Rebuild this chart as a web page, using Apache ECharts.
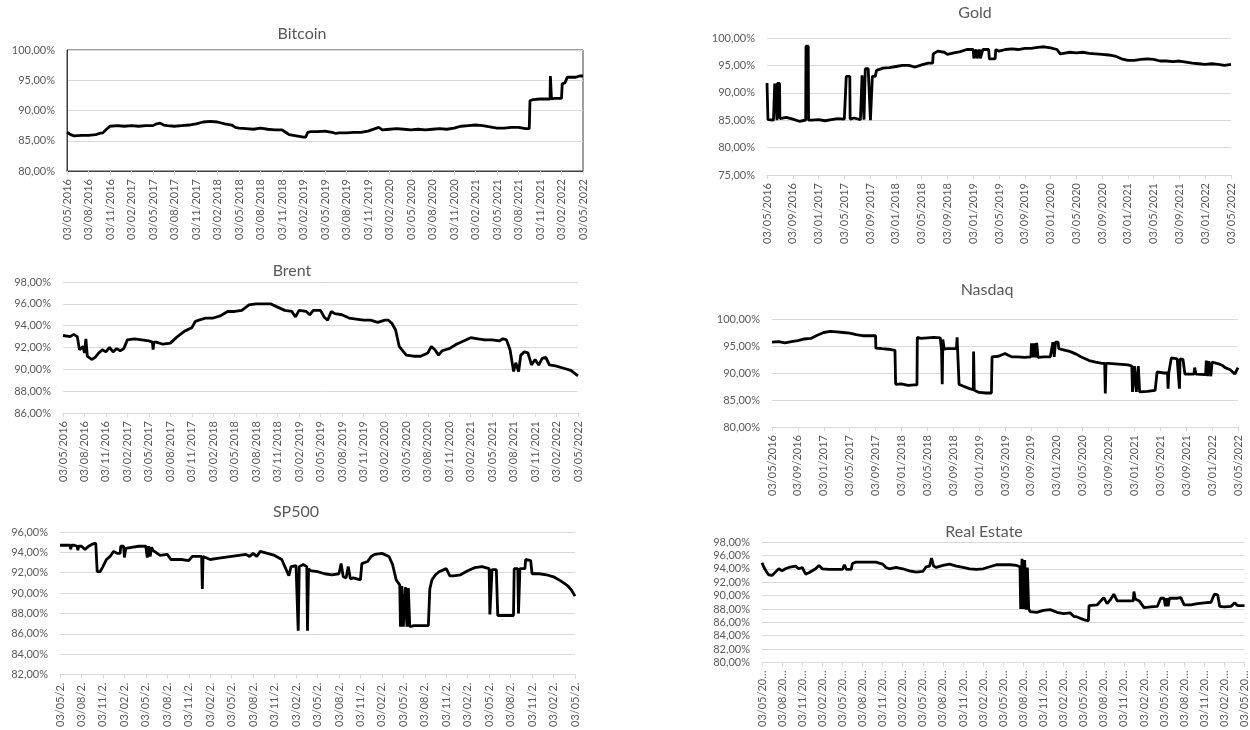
<!DOCTYPE html>
<html>
<head>
<meta charset="utf-8">
<title>Bitcoin, Gold, Brent, Nasdaq, SP500, Real Estate</title>
<script src="https://cdn.jsdelivr.net/npm/echarts@6/dist/echarts.min.js"></script>
<style>
  html, body { margin: 0; padding: 0; background: #fff; overflow: hidden; }
  #chart { width: 1250px; height: 730px; }
</style>
</head>
<body>
<div id="chart"></div>
<script>
// x = months since 03/05/2016, y = percent
const quarterLabels = ['03/05/2016', '03/08/2016', '03/11/2016', '03/02/2017', '03/05/2017', '03/08/2017',
  '03/11/2017', '03/02/2018', '03/05/2018', '03/08/2018', '03/11/2018', '03/02/2019', '03/05/2019',
  '03/08/2019', '03/11/2019', '03/02/2020', '03/05/2020', '03/08/2020', '03/11/2020', '03/02/2021',
  '03/05/2021', '03/08/2021', '03/11/2021', '03/02/2022', '03/05/2022']
const fourMonthLabels = ['03/05/2016', '03/09/2016', '03/01/2017', '03/05/2017', '03/09/2017', '03/01/2018',
  '03/05/2018', '03/09/2018', '03/01/2019', '03/05/2019', '03/09/2019', '03/01/2020', '03/05/2020',
  '03/09/2020', '03/01/2021', '03/05/2021', '03/09/2021', '03/01/2022', '03/05/2022']

const bitcoin = [[0, 86.4], [0.5, 86.0], [1, 85.8], [2, 85.9], [3, 85.9], [4, 86.0], [4.5, 86.2], [5, 86.3],
  [5.5, 86.9], [6, 87.4], [7, 87.5], [8, 87.4], [9, 87.5], [10, 87.4], [11, 87.5], [12, 87.5], [12.5, 87.8],
  [13, 87.9], [13.5, 87.6], [14, 87.5], [15, 87.4], [16, 87.5], [17, 87.6], [18, 87.8], [19, 88.1], [20, 88.2],
  [21, 88.1], [22, 87.8], [23, 87.6], [23.5, 87.2], [24, 87.1], [25, 87.0], [26, 86.9], [27, 87.1], [28, 86.9],
  [29, 86.8], [30, 86.8], [30.5, 86.4], [31, 86.0], [32, 85.8], [33, 85.6], [33.3, 85.6], [33.6, 86.4],
  [34, 86.5], [35, 86.5], [36, 86.6], [37, 86.4], [37.5, 86.2], [38, 86.3], [39, 86.3], [40, 86.4], [41, 86.4],
  [42, 86.6], [43, 87.0], [43.5, 87.2], [44, 86.8], [45, 86.9], [46, 87.0], [47, 86.9], [48, 86.8], [49, 86.9],
  [50, 86.8], [51, 86.9], [52, 87.0], [53, 86.9], [54, 87.1], [55, 87.4], [56, 87.5], [57, 87.6], [58, 87.5],
  [59, 87.3], [60, 87.1], [61, 87.1], [62, 87.2], [63, 87.2], [64, 87.0], [64.5, 87.0], [64.6, 91.6],
  [65, 91.8], [66, 91.9], [67, 91.9], [67.4, 91.9], [67.45, 95.7], [67.55, 95.7], [67.6, 91.9], [68, 92.0],
  [69, 92.0], [69.1, 94.4], [69.5, 94.6], [69.8, 95.5], [70, 95.5], [71, 95.5], [71.5, 95.7], [72, 95.7]]

const gold = [[0, 91.8], [0.15, 85.1], [1, 85.0], [1.15, 85.0], [1.2, 91.7], [1.5, 91.7], [1.55, 85.0],
  [1.6, 91.7], [1.95, 91.7], [2.0, 85.3], [3, 85.5], [4, 85.2], [5, 84.8], [5.5, 84.9], [6, 85.0], [6.05, 98.5],
  [6.4, 98.5], [6.45, 85.0], [7, 85.0], [8, 85.1], [9, 84.9], [10, 85.1], [11, 85.3], [12, 85.2], [12.25, 85.1],
  [12.3, 93.0], [12.85, 93.0], [12.9, 85.2], [13.5, 85.4], [14.5, 85.1], [14.7, 85.0], [14.75, 93.2],
  [15.0, 93.2], [15.05, 85.1], [15.2, 85.1], [15.25, 94.4], [15.7, 94.4], [15.75, 93.2], [16.0, 93.3],
  [16.05, 85.0], [16.3, 85.0], [16.35, 93.0], [16.8, 93.0], [17, 94.1], [18, 94.5], [19, 94.6], [20, 94.8],
  [21, 95.0], [22, 95.0], [23, 94.7], [24, 95.1], [25, 95.4], [25.7, 95.4], [25.8, 97.1], [26.5, 97.6],
  [27.5, 97.4], [28, 97.0], [29, 97.3], [30, 97.5], [31, 97.9], [32, 97.9], [32.1, 96.3], [32.5, 97.9],
  [32.6, 96.3], [33, 97.9], [33.1, 96.3], [33.4, 96.3], [33.5, 97.9], [34.4, 97.9], [34.5, 96.2], [35.4, 96.2],
  [35.5, 97.9], [36, 97.6], [37, 97.9], [38, 98.0], [39, 97.9], [40, 98.1], [41, 98.1], [42, 98.3], [43, 98.4],
  [44, 98.2], [45, 97.9], [45.5, 97.1], [46, 97.2], [47, 97.4], [48, 97.3], [49, 97.4], [50, 97.2], [51, 97.1],
  [52, 97.0], [53, 96.9], [54, 96.7], [55, 96.2], [56, 95.9], [57, 95.9], [58, 96.1], [59, 96.2], [60, 96.1],
  [61, 95.8], [62, 95.8], [63, 95.7], [64, 95.8], [65, 95.6], [66, 95.4], [67, 95.3], [68, 95.2], [69, 95.3],
  [70, 95.2], [71, 95.0], [72, 95.2]]

const brent = [[0, 93.1], [1, 93.0], [1.5, 93.2], [2, 93.0], [2.2, 93.1], [2.3, 91.8], [2.8, 92.1], [3, 91.5],
  [3.2, 92.8], [3.4, 91.2], [4, 90.9], [4.5, 91.1], [5, 91.5], [5.5, 91.8], [6, 91.6], [6.5, 92.0], [7, 91.6],
  [7.5, 91.9], [8, 91.7], [8.5, 91.9], [9, 92.7], [10, 92.8], [11, 92.7], [12, 92.6], [12.5, 92.5], [12.6, 91.8],
  [12.7, 92.5], [13, 92.5], [14, 92.3], [15, 92.4], [15.5, 92.7], [16, 93.0], [17, 93.5], [18, 93.8],
  [18.5, 94.4], [19, 94.5], [20, 94.7], [21, 94.7], [22, 94.9], [23, 95.3], [24, 95.3], [25, 95.4], [26, 95.9],
  [27, 96.0], [28, 96.0], [29, 96.0], [30, 95.7], [31, 95.4], [32, 95.3], [32.5, 94.8], [33, 95.4], [34, 95.3],
  [34.5, 95.0], [35, 95.4], [36, 95.4], [36.5, 94.8], [37, 94.5], [37.5, 95.3], [38, 95.1], [39, 95.0],
  [40, 94.7], [41, 94.6], [42, 94.5], [43, 94.5], [44, 94.3], [45, 94.5], [45.5, 94.5], [46, 94.2], [46.5, 93.6],
  [47, 92.1], [47.5, 91.7], [48, 91.3], [49, 91.2], [50, 91.2], [51, 91.5], [51.5, 92.1], [52, 91.8],
  [52.5, 91.3], [53, 91.7], [54, 91.9], [55, 92.3], [56, 92.6], [57, 92.9], [58, 92.8], [59, 92.7], [60, 92.7],
  [61, 92.6], [61.5, 92.8], [62, 92.7], [62.5, 91.8], [63, 89.8], [63.3, 90.6], [63.7, 89.8], [64, 91.3],
  [64.5, 91.6], [65, 91.5], [65.5, 90.4], [66, 90.9], [66.5, 90.4], [67, 91.0], [67.5, 91.1], [68, 90.4],
  [69, 90.3], [70, 90.1], [71, 89.9], [72, 89.4]]

const nasdaq = [[0, 95.7], [1, 95.8], [2, 95.6], [3, 95.8], [4, 96.0], [5, 96.3], [6, 96.4], [7, 97.0],
  [8, 97.5], [9, 97.7], [10, 97.6], [11, 97.5], [12, 97.4], [13, 97.1], [14, 96.9], [15, 96.9], [16, 96.9],
  [16.05, 94.6], [17, 94.5], [18, 94.4], [19, 94.2], [19.1, 87.9], [20, 88.0], [21, 87.7], [22, 87.8],
  [22.4, 87.8], [22.45, 96.6], [23, 96.4], [24, 96.5], [25, 96.6], [26, 96.5], [26.2, 94.2], [26.3, 87.9],
  [26.4, 96.2], [26.6, 94.4], [27, 94.5], [28.5, 94.5], [28.6, 96.6], [28.85, 96.6], [28.9, 87.9], [29.5, 87.6],
  [30.5, 87.1], [31.1, 86.9], [31.15, 94.0], [31.25, 86.8], [32, 86.4], [33, 86.3], [33.9, 86.3], [34, 93.0],
  [35, 93.1], [36, 93.6], [36.5, 93.3], [37, 93.0], [38, 93.0], [39, 92.9], [40, 93.0], [40.1, 95.5],
  [40.3, 92.9], [40.5, 95.5], [40.7, 92.9], [40.9, 95.6], [41.1, 92.9], [42, 93.0], [43, 93.0], [43.3, 93.0],
  [43.4, 95.7], [43.6, 93.0], [43.8, 95.7], [44.2, 95.7], [44.3, 94.5], [45, 94.3], [46, 94.0], [47, 93.5],
  [47.7, 93.0], [49, 92.3], [50, 92.0], [51, 91.8], [51.4, 91.8], [51.5, 86.2], [51.6, 91.8], [52, 91.8],
  [53, 91.7], [54, 91.6], [55, 91.5], [55.6, 91.3], [55.7, 86.5], [56.0, 91.3], [56.3, 86.5], [56.6, 91.3],
  [56.8, 86.5], [58, 86.6], [59.2, 86.8], [59.5, 90.2], [60.5, 90.0], [61.1, 90.0], [61.2, 87.1], [61.3, 90.0],
  [61.7, 92.8], [62.6, 92.6], [62.9, 92.6], [62.95, 87.1], [63.05, 92.6], [63.5, 92.5], [63.8, 89.8],
  [64, 89.8], [65.2, 89.8], [65.3, 91.0], [65.5, 89.8], [67, 89.7], [67.1, 92.3], [67.3, 89.4], [67.5, 92.2],
  [67.8, 89.4], [68, 92.0], [69, 91.7], [69.6, 91.4], [70, 91.0], [70.8, 90.6], [71.5, 89.8], [72, 91.0]]

const sp500 = [[0, 94.7], [1, 94.7], [1.4, 94.7], [1.5, 94.3], [1.6, 94.7], [2, 94.7], [2.4, 94.6], [2.5, 94.2],
  [2.6, 94.6], [3, 94.6], [3.5, 94.3], [4, 94.6], [4.5, 94.8], [5, 94.9], [5.2, 92.1], [5.6, 92.1], [6, 92.6],
  [6.5, 93.3], [7, 93.6], [7.5, 94.1], [8, 93.9], [8.4, 93.9], [8.5, 94.6], [8.9, 94.6], [9, 93.5], [9.2, 94.4],
  [10, 94.5], [11, 94.6], [12, 94.6], [12.2, 93.5], [12.4, 94.6], [12.6, 93.6], [12.8, 94.5], [13, 94.2],
  [14, 93.7], [15, 93.8], [15.5, 93.3], [17, 93.3], [18, 93.2], [18.5, 93.6], [19.8, 93.6], [19.9, 90.4],
  [20.0, 93.6], [21, 93.3], [22, 93.4], [23, 93.5], [24, 93.6], [25, 93.7], [26, 93.8], [26.5, 93.6], [27, 93.9],
  [27.5, 93.6], [28, 94.1], [29, 93.9], [30, 93.7], [31, 93.3], [31.5, 92.5], [32, 91.7], [32.3, 92.6],
  [33, 92.7], [33.2, 92.7], [33.3, 86.3], [33.45, 92.6], [34, 92.8], [34.5, 92.6], [34.6, 86.3], [34.75, 92.4],
  [35, 92.2], [36, 92.1], [37, 91.9], [38, 91.8], [39, 91.9], [39.3, 92.9], [39.6, 91.6], [40, 91.5],
  [40.3, 92.6], [40.6, 91.4], [41, 91.5], [42, 91.3], [42.2, 92.9], [43, 93.1], [43.5, 93.6], [44, 93.8],
  [45, 93.9], [46, 93.6], [46.5, 92.8], [47, 91.3], [47.5, 90.8], [47.6, 86.7], [47.8, 90.7], [48, 86.7],
  [48.3, 90.6], [48.5, 86.7], [48.7, 90.5], [48.9, 86.7], [49.5, 86.8], [51.5, 86.8], [51.7, 90.4], [52, 91.3],
  [52.5, 91.8], [53, 92.1], [54, 92.4], [54.5, 91.7], [55, 91.7], [56, 91.8], [57, 92.2], [58, 92.5], [59, 92.6],
  [60, 92.4], [60.1, 87.9], [60.4, 92.3], [61, 92.3], [61.2, 87.8], [63.4, 87.8], [63.5, 92.4], [64, 92.4],
  [64.1, 88.0], [64.3, 92.4], [65, 92.4], [65.1, 93.3], [65.8, 93.2], [66, 91.9], [67, 91.9], [68, 91.8],
  [69, 91.6], [70, 91.2], [71, 90.7], [71.5, 90.3], [72, 89.7]]

const realEstate = [[0, 94.9], [0.3, 94.2], [0.7, 93.5], [1, 93.1], [1.5, 93.0], [2, 93.5], [2.5, 94.0],
  [3, 93.7], [3.5, 94.0], [4, 94.2], [5, 94.4], [5.5, 94.0], [6, 94.2], [6.5, 93.2], [7, 93.4], [8, 94.0],
  [8.5, 94.5], [9, 94.0], [10, 93.9], [11, 93.9], [12, 93.9], [12.2, 93.9], [12.3, 94.6], [12.6, 93.9],
  [13.3, 93.9], [13.5, 94.8], [14, 95.0], [16, 95.0], [17, 95.0], [18, 94.7], [18.5, 94.2], [19, 94.0],
  [20, 94.2], [21, 94.0], [22, 93.7], [23, 93.5], [24, 93.6], [24.5, 94.3], [25, 94.4], [25.3, 95.6],
  [25.6, 94.4], [26, 94.2], [27, 94.5], [28, 94.7], [29, 94.4], [30, 94.2], [31, 94.0], [32, 93.9], [33, 94.0],
  [34, 94.3], [35, 94.6], [37, 94.6], [38, 94.5], [38.5, 94.3], [38.6, 88.0], [38.8, 95.5], [39.0, 88.0],
  [39.2, 95.3], [39.4, 87.9], [39.6, 94.2], [39.8, 88.0], [40, 87.6], [41, 87.5], [42, 87.8], [43, 87.9],
  [44, 87.5], [45, 87.3], [46, 87.4], [46.5, 86.9], [47, 86.8], [48, 86.4], [48.7, 86.2], [48.8, 88.5],
  [50, 88.6], [51, 89.7], [51.5, 88.8], [52, 89.4], [52.5, 90.2], [53, 89.2], [55, 89.2], [55.4, 89.2],
  [55.5, 90.6], [55.7, 89.5], [56.3, 89.2], [57, 88.2], [58, 88.3], [59, 88.4], [59.5, 89.6], [60, 89.6],
  [60.2, 88.4], [60.4, 89.6], [60.6, 88.4], [60.8, 89.6], [62, 89.6], [62.5, 89.7], [63, 88.6], [64, 88.6],
  [65, 88.8], [66, 88.9], [67, 89.0], [67.5, 90.2], [68, 90.1], [68.3, 88.4], [69, 88.3], [70, 88.4],
  [70.5, 88.9], [71, 88.5], [72, 88.5]]

const font = 'Lato, "Open Sans", sans-serif'
const gray = '#595959'

function pct (v) {
  return v.toFixed(2).replace('.', ',') + '%'
}

// one panel per asset
const panels = [
  { name: 'Bitcoin', data: bitcoin, grid: { left: 67, top: 50, width: 516, height: 121 }, min: 80, max: 100, step: 5, every: 3, labels: quarterLabels, box: true },
  { name: 'Gold', data: gold, grid: { left: 767, top: 38, width: 464, height: 137 }, min: 75, max: 100, step: 5, every: 4, labels: fourMonthLabels },
  { name: 'Brent', data: brent, grid: { left: 63, top: 282, width: 515, height: 131 }, min: 86, max: 98, step: 2, every: 3, labels: quarterLabels },
  { name: 'Nasdaq', data: nasdaq, grid: { left: 772, top: 319, width: 466, height: 108 }, min: 80, max: 100, step: 5, every: 4, labels: fourMonthLabels },
  { name: 'SP500', data: sp500, grid: { left: 60, top: 532, width: 515, height: 145 }, min: 82, max: 96, step: 2, every: 3, labels: quarterLabels, cut: (s) => s.slice(0, 7) + '.' },
  { name: 'Real Estate', data: realEstate, grid: { left: 762, top: 542, width: 486, height: 126 }, min: 80, max: 98, step: 2, every: 3, labels: quarterLabels, cut: (s) => s.slice(0, 8) + '…' }
]

const titlePos = [[302, 26], [975, 5], [292, 263], [987, 282], [296, 504], [984, 524]]

const myChart = echarts.init(document.getElementById('chart'))

const option = {
  animation: false,
  title: panels.map((p, i) => ({
    text: p.name,
    left: titlePos[i][0],
    top: titlePos[i][1],
    textAlign: 'center',
    padding: 0,
    textStyle: { fontFamily: font, fontSize: 16, fontWeight: 'normal', color: gray }
  })),
  grid: panels.map((p) => Object.assign({
    containLabel: false,
    show: !!p.box,
    borderColor: '#3f3f3f',
    borderWidth: 1
  }, p.grid)),
  xAxis: panels.map((p, i) => ({
    type: 'value',
    gridIndex: i,
    min: 0,
    max: 72,
    interval: p.every,
    axisLine: { lineStyle: { color: p.box ? '#3f3f3f' : '#d9d9d9' } },
    axisTick: { show: true, length: 4, lineStyle: { color: '#d9d9d9' } },
    splitLine: { show: false },
    axisLabel: {
      rotate: 90,
      margin: 8,
      fontFamily: font,
      fontSize: 11,
      color: gray,
      showMinLabel: true,
      showMaxLabel: true,
      formatter: (v) => {
        const s = p.labels[Math.round(v / p.every)]
        return p.cut ? p.cut(s) : s
      }
    }
  })),
  yAxis: panels.map((p, i) => ({
    type: 'value',
    gridIndex: i,
    min: p.min,
    max: p.max,
    interval: p.step,
    axisLine: { show: !!p.box, lineStyle: { color: '#3f3f3f' } },
    axisTick: { show: false },
    splitLine: { lineStyle: { color: '#d9d9d9' } },
    axisLabel: { fontFamily: font, fontSize: 11, color: gray, margin: 12, formatter: pct }
  })),
  series: panels.map((p, i) => ({
    name: p.name,
    type: 'line',
    xAxisIndex: i,
    yAxisIndex: i,
    data: p.data,
    showSymbol: false,
    symbol: 'none',
    lineStyle: { color: '#000', width: 2.8 },
    itemStyle: { color: '#000' }
  }))
}

myChart.setOption(option)
</script>
</body>
</html>
